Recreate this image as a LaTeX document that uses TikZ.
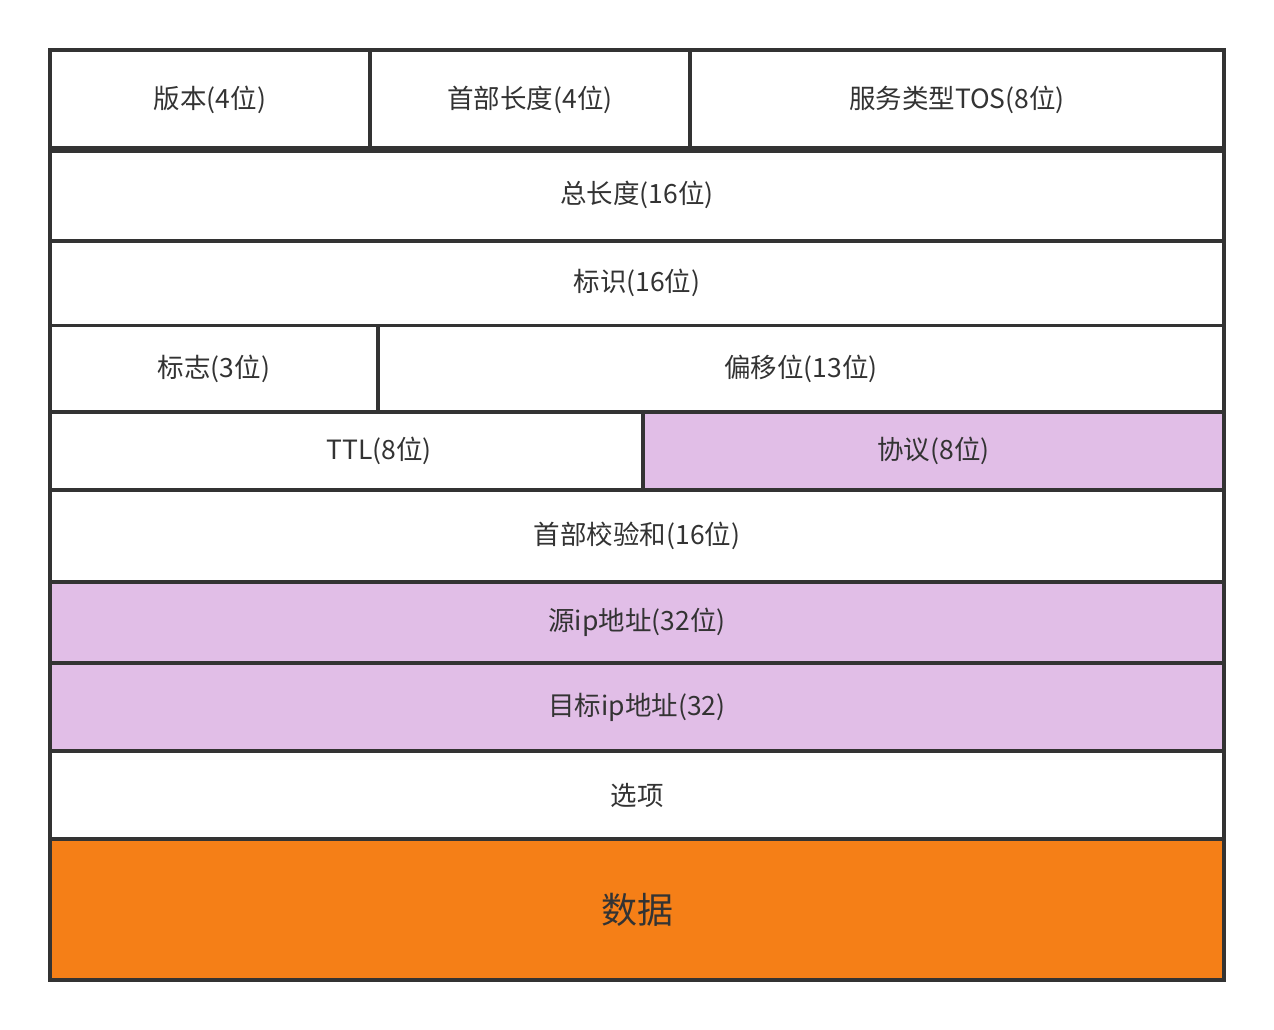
\documentclass[tikz,border=0pt]{standalone}
\usepackage{fontspec}
\setmainfont{Noto Sans CJK SC}
\usetikzlibrary{positioning}
\definecolor{ipline}{RGB}{51,51,51}
\definecolor{iptext}{RGB}{51,51,51}
\definecolor{ippurple}{RGB}{225,190,231}
\definecolor{iporange}{RGB}{245,127,23}
\tikzset{cell/.style={draw=ipline,line width=3.5pt,fill=white,rectangle,outer sep=0pt,inner sep=0pt,text=iptext,font=\fontsize{26.5}{30}\selectfont},
  hot/.style={cell,fill=ippurple},
  frame/.style={draw=ipline,line width=4pt},
  caption/.style={text=iptext,font=\fontsize{26.5}{30}\selectfont}}
\newcommand{\cellat}[6]{\node[#1,minimum width=#4-#3,minimum height=#6-#5] (#2) at ({(#3+#4)/2},{(#5+#6)/2})}

\begin{document}
\begin{tikzpicture}[x=1pt,y=-1pt]
\useasboundingbox (0,0) rectangle (1274,1030);
% first row
\cellat{cell}{ver}{50}{370}{50}{149.5} {版本(4位)};
\cellat{cell}{hlen}{370}{690}{50}{149.5} {首部长度(4位)};
\cellat{cell}{tos}{690}{1224}{50}{149.5} {服务类型TOS(8位)};
% full rows
\cellat{cell}{tot}{50}{1224}{149.5}{241} {总长度(16位)};
\cellat{cell}{ident}{50}{1224}{241}{325.5} {标识(16位)};
\cellat{cell}{flag}{50}{378}{325.5}{412} {标志(3位)};
\cellat{cell}{off}{378}{1224}{325.5}{412} {偏移位(13位)};
\cellat{cell}{ttl}{50}{643}{412}{490} {};
\node[caption] (ttltxt) at (379,451) {TTL(8位)};
\cellat{hot}{proto}{643}{1224}{412}{490} {协议(8位)};
\cellat{cell}{chk}{50}{1224}{490}{582} {首部校验和(16位)};
\cellat{hot}{src}{50}{1224}{582}{663} {源ip地址(32位)};
\cellat{hot}{dst}{50}{1224}{663}{751} {目标ip地址(32)};
\cellat{cell}{opt}{50}{1224}{751}{839} {选项};
\cellat{cell,fill=iporange}{data}{50}{1224}{839}{980} {\fontsize{36}{40}\selectfont 数据};
% outline
\draw[frame,line width=6pt] (ver.south west) -- (tos.south east);
\draw[frame] (ver.north west) rectangle (data.south east);
\end{tikzpicture}
\end{document}
